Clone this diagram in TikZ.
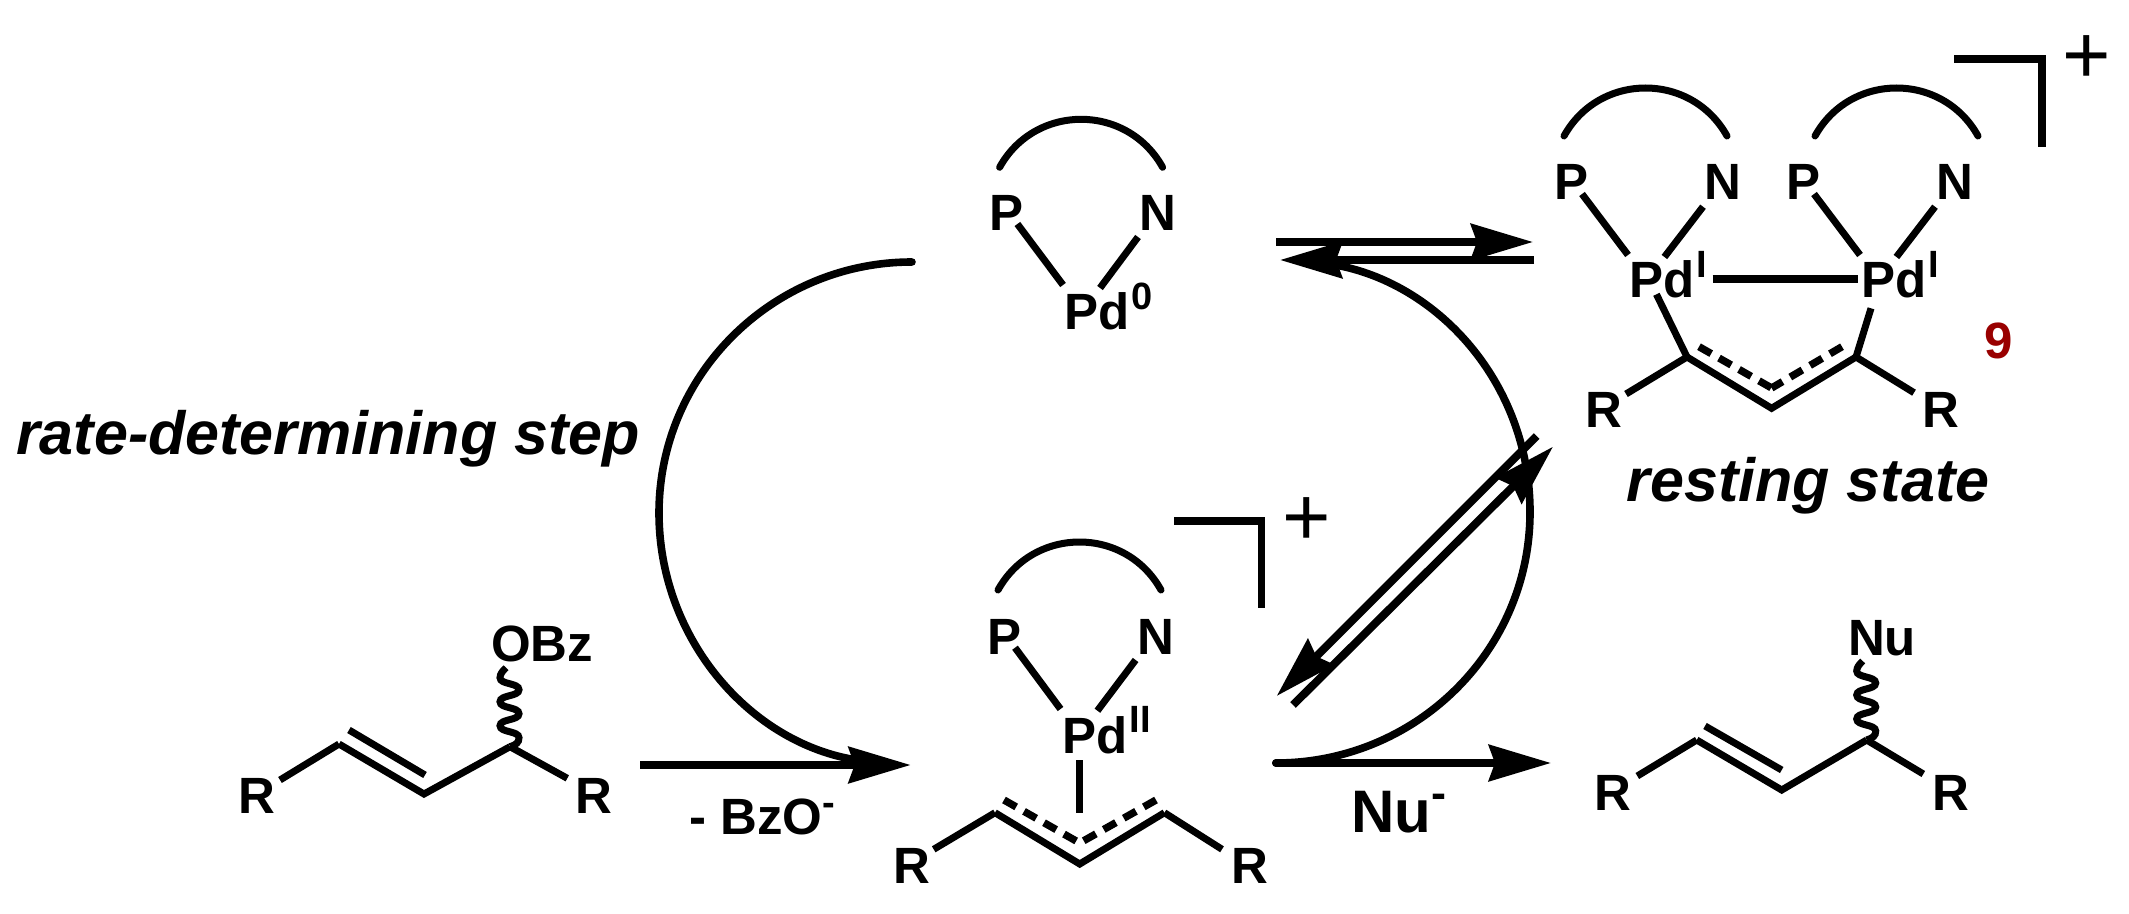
\documentclass[tikz,border=0pt]{standalone}
\usepackage{fontspec}
\setmainfont{Liberation Sans}
\usetikzlibrary{arrows.meta,calc}
\definecolor{numred}{HTML}{990000}
\newcommand{\cbond}[4]{\draw[bond] ($(#1)+(#2)$) -- ($(#3)+(#4)$);}
\newcommand{\pdox}[1]{Pd\hspace{1pt}\raisebox{10.25pt}{\fontsize{19}{19}\selectfont #1}}
\newcommand{\supminus}[2]{\raisebox{#2}{\fontsize{#1}{#1}\selectfont -}}
\tikzset{
  atom/.style={font=\fontsize{25.5}{25.5}\selectfont\bfseries,inner sep=0pt,anchor=base},
  metal/.style={atom,anchor=base west},
  note/.style={font=\fontsize{30.5}{30.5}\selectfont\bfseries\itshape,inner sep=0pt,anchor=base},
  charge/.style={font=\fontsize{41.5}{41.5}\selectfont,inner sep=0pt,anchor=base},
  bond/.style={line width=3.5pt,line cap=butt,line join=miter},
  metalbond/.style={line width=4pt},
  deloc/.style={line width=3.7pt,dash pattern=on 7pt off 4.5pt},
  bracket/.style={line width=3.8pt,line join=miter},
  lig/.style={line width=3.5pt,line cap=round},
  curved/.style={line width=3.8pt,line cap=round},
  shaft/.style={line width=4pt,-{Stealth[length=31pt,width=18pt,inset=3pt]}},
  wav/.style={line width=3.5pt},
  ligand/.pic={\draw[lig] (0,0) .. controls (35.5,-64) and (127.5,-64) .. (163,0);},
  wavy/.pic={\draw[wav] (0,0) .. controls (6,-2) and (9,-4) .. (9,-9)
     .. controls (9,-16) and (-10,-14) .. (-10,-21)
     .. controls (-10,-28) and (9,-26) .. (9,-33)
     .. controls (9,-40) and (-10,-38) .. (-10,-45)
     .. controls (-10,-52) and (9,-50) .. (9,-57)
     .. controls (9,-64) and (-10,-62) .. (-10,-69)
     .. controls (-10,-73) and (-7,-76) .. (-4,-79);}
}
\begin{document}
\begin{tikzpicture}[x=0.5pt,y=-0.5pt]
\useasboundingbox (0,0) rectangle (2129,914);
\fill[white] (0,0) rectangle (2129,914);

% --- Pd(0) complex, top centre
\node[atom] (P0) at (1006,231) {P};
\node[atom] (N0) at (1158,231) {N};
\node[metal] (Pd0) at (1064.4,330) {\pdox{0}};
\pic at (999.6,167.3) {ligand};
\cbond{P0.base}{11.4,-7}{Pd0.base west}{-1.4,-45}
\cbond{N0.base}{-20,6}{Pd0.base west}{35.6,-42}

% --- dinuclear resting state
\node[atom] (P1) at (1571,200) {P};
\node[atom] (N1) at (1723,200) {N};
\node[atom] (P2) at (1803,200) {P};
\node[atom] (N2) at (1955,200) {N};
\node[metal] (Pd1) at (1629.4,298) {\pdox{I}};
\node[metal] (Pd2) at (1861.4,298) {\pdox{I}};
\pic at (1564,136) {ligand};
\pic at (1815,136) {ligand};
\cbond{P1.base}{11,-6}{Pd1.base west}{-1.4,-43}
\cbond{N1.base}{-20,6.7}{Pd1.base west}{35,-41}
\cbond{P2.base}{11,-6}{Pd2.base west}{-1.4,-43}
\cbond{N2.base}{-20,6.7}{Pd2.base west}{35,-41}
\draw[bond,metalbond] ($(Pd1.base west)+(83.2,-19)$) -- ($(Pd2.base west)+(-3.4,-19)$);
\coordinate (c1) at (1687,357);
\coordinate (c2) at (1771.6,408.3);
\coordinate (c3) at (1856,357);
\coordinate (cd1) at (1699,346.7);
\coordinate (cd2) at (1771.6,388);
\coordinate (cd3) at (1842,346.7);
\node[atom] (RA) at (1603.5,427) {R};
\node[atom] (RB) at (1941,427) {R};
\draw[bond] (c1) -- (c2) -- (c3);
\cbond{Pd1.base west}{27,-3.7}{c1}{0,0}
\cbond{Pd2.base west}{9.6,10.3}{c3}{0,0}
\cbond{RA.base}{22.5,-33}{c1}{0,0}
\cbond{RB.base}{-27,-34.3}{c3}{0,0}
\draw[deloc] (cd1) -- (cd2);
\draw[deloc] (cd3) -- (cd2);
\coordinate (bra1) at (1954,59);
\coordinate (bra2) at (2042,59);
\coordinate (bra3) at (2042,147.5);
\draw[bracket] (bra1) -- (bra2) -- (bra3);
\node[charge] (plusA) at (2087,84) {+};
\node[font=\fontsize{25.5}{25.5}\selectfont\bfseries,text=numred,inner sep=0pt,anchor=base] (nine) at (1999,358) {9};
\node[note] (rest) at (1808,501) {resting state};

% --- Pd(II) allyl complex, bottom centre
\node[atom] (P3) at (1004.5,654) {P};
\node[atom] (N3) at (1156,654) {N};
\node[metal] (Pd3) at (1062.4,753) {\pdox{II}};
\pic at (998,590) {ligand};
\cbond{P3.base}{10.5,-6.3}{Pd3.base west}{-1.9,-44}
\cbond{N3.base}{-20.4,6}{Pd3.base west}{35,-42.3}
\coordinate (a1) at (995,812.7);
\coordinate (a2) at (1079.7,864);
\coordinate (a3) at (1164.4,812.7);
\coordinate (ad1) at (1004,800);
\coordinate (ad2) at (1079.7,843);
\coordinate (ad3) at (1156,800);
\coordinate (ap) at (1079.7,812.7);
\node[atom] (RC) at (911.5,883) {R};
\node[atom] (RD) at (1250,883) {R};
\draw[bond] (a1) -- (a2) -- (a3);
\cbond{RC.base}{22.2,-33.7}{a1}{0,0}
\cbond{RD.base}{-28,-33.7}{a3}{0,0}
\cbond{Pd3.base west}{17.3,7}{ap}{0,0}
\draw[deloc] (ad1) -- (ad2);
\draw[deloc] (ad3) -- (ad2);
\coordinate (brb1) at (1174,521);
\coordinate (brb2) at (1261.5,521);
\coordinate (brb3) at (1261.5,608);
\draw[bracket] (brb1) -- (brb2) -- (brb3);
\node[charge] (plusB) at (1306.7,545.5) {+};

% --- substrate, bottom left
\node[atom] (RE) at (256.5,813) {R};
\node[atom] (RF) at (593.5,813) {R};
\node[atom] (OBz) at (542,661) {OBz};
\coordinate (s1) at (339,744);
\coordinate (s2) at (424,794);
\coordinate (s3) at (510,746.7);
\coordinate (s4) at (349,730);
\coordinate (s5) at (425,775);
\draw[bond] (s1) -- (s2) -- (s3);
\draw[bond] (s4) -- (s5);
\cbond{RE.base}{23.5,-33}{s1}{0,0}
\cbond{RF.base}{-26.2,-34.7}{s3}{0,0}
\pic at (s3) {wavy};

% --- product, bottom right
\node[atom] (RG) at (1613,810) {R};
\node[atom] (RH) at (1951,810) {R};
\node[atom] (Nu) at (1882,655) {Nu};
\coordinate (t1) at (1696.7,740);
\coordinate (t2) at (1781.7,790);
\coordinate (t3) at (1866.7,740);
\coordinate (t4) at (1705,726);
\coordinate (t5) at (1781.7,770);
\draw[bond] (t1) -- (t2) -- (t3);
\draw[bond] (t4) -- (t5);
\cbond{RG.base}{24.3,-34}{t1}{0,0}
\cbond{RH.base}{-27.7,-36}{t3}{0,0}
\pic at (t3) {wavy};

% --- labels
\node[note] (rds) at (328,454) {rate-determining step};
\node[atom,anchor=base west] (bzo) at (689,834) {- BzO\supminus{19}{9.5pt}};
\node[inner sep=0pt,anchor=base west,font=\fontsize{30}{30}\selectfont\bfseries] (numinus) at (1351,832) {Nu\supminus{22.5}{11.7pt}};

% --- arrows
\coordinate (m1) at (640,765);
\coordinate (m2) at (910.7,765);
\draw[shaft] (m1) -- (m2);
\coordinate (o1) at (1276,763);
\coordinate (o2) at (1551,763);
\draw[shaft,line cap=round] (o1) -- (o2);
\coordinate (e1) at (1276,242);
\coordinate (e2) at (1533,242);
\draw[shaft] (e1) -- (e2);
\coordinate (e3) at (1534,260);
\coordinate (e4) at (1280,260);
\draw[shaft] (e3) -- (e4);
\coordinate (d1) at (1536.7,436);
\coordinate (d2) at (1276.7,696);
\draw[shaft] (d1) -- (d2);
\coordinate (d3) at (1293,705);
\coordinate (d4) at (1553,446.7);
\draw[shaft] (d3) -- (d4);
% catalytic-cycle curves
\coordinate (l0) at (912,262);
\coordinate (l1) at (659,513);
\coordinate (l2) at (875,762);
\draw[curved] (l0) .. controls (773,262) and (659,374) .. (l1)
  .. controls (659,645) and (760,755) .. (l2);
\coordinate (r2) at (1530,512);
\coordinate (r3) at (1310,262);
\draw[curved] (o1) .. controls (1416,763) and (1530,651) .. (r2)
  .. controls (1530,375) and (1425,268) .. (r3);
\end{tikzpicture}
\end{document}
